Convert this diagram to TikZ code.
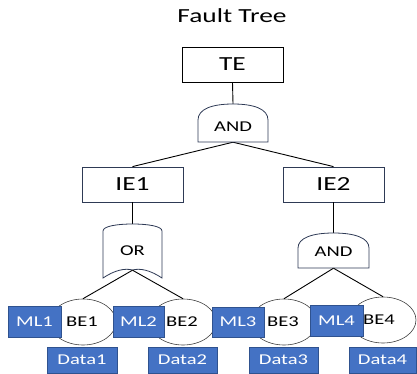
\documentclass[tikz,border=0pt]{standalone}
\usepackage{fontspec}
\setmainfont{Carlito}[FakeStretch=1.37]
\usetikzlibrary{shapes.geometric}
\definecolor{mlblue}{HTML}{4472C4}
\definecolor{mledge}{HTML}{2F528F}
\definecolor{gateedge}{HTML}{2E3A55}
\definecolor{evgray}{HTML}{404040}
\begin{document}
\begin{tikzpicture}[x=1pt,y=-1pt,
  bigfont/.style={font=\fontsize{20}{24}\selectfont},
  midfont/.style={font=\fontsize{15}{18}\selectfont},
  evbox/.style={draw=black, line width=0.8pt, minimum width=101pt, minimum height=35pt, inner sep=0pt, bigfont},
  iebox/.style={evbox, draw=gateedge},
  gatebox/.style={inner sep=0pt},
  gateline/.style={draw=gateedge, line width=0.8pt, fill=white},
  wire/.style={draw=black, line width=0.9pt},
  bluebox/.style={fill=mlblue, draw=mledge, line width=0.8pt, text=white, inner sep=0pt, midfont},
  basic/.style={ellipse, draw=evgray, line width=0.6pt, fill=white, minimum width=66pt, minimum height=46pt, inner sep=0pt, midfont}
]
\useasboundingbox (0,0) rectangle (417,374);

\node[bigfont] (title) at (232,16) {Fault Tree};

% top event and gates
\node[evbox] (te) at (232.5,64.5) {TE};
\node[gatebox, minimum width=70pt, minimum height=38pt] (and1) at (233,123) {};
\node[iebox] (ie1) at (132.5,184.5) {IE1};
\node[iebox] (ie2) at (333.5,184.5) {IE2};
\node[gatebox, minimum width=59pt, minimum height=46pt] (or1) at (132.5,247) {};
\node[gatebox, minimum width=71pt, minimum height=35pt] (and2) at (333.5,250.5) {};

% wires
\draw[wire] (te.south) -- (and1.north);
\draw[wire] (and1.south) -- (ie1.north);
\draw[wire] (and1.south) -- (ie2.north);
\draw[wire] (ie1.south) -- (or1.north);
\draw[wire] (ie2.south) -- (and2.north);

% gate outlines
\draw[gateline] (198,142) -- (198,120) .. controls (198,109) and (212,104) .. (233,104)
  .. controls (254,104) and (268,109) .. (268,120) -- (268,142) -- cycle;
\draw[gateline] (103,278) -- (103,231) .. controls (103,226) and (118,224) .. (132.5,224)
  .. controls (147,224) and (162,226) .. (162,231) -- (162,278)
  .. controls (150,270) and (140,268) .. (132.5,270)
  .. controls (125,268) and (115,270) .. (103,278) -- cycle;
\draw[gateline] (298,268) -- (298,248) .. controls (298,238) and (312,233) .. (333.5,233)
  .. controls (355,233) and (369,238) .. (369,248) -- (369,268) -- cycle;

\node[midfont] (and1t) at (233,127) {AND};
\node[midfont] (or1t) at (132.5,251) {OR};
\node[midfont] (and2t) at (333.5,252) {AND};

% basic events
\node[basic] (be1) at (83,322) {};
\node[basic] (be2) at (183,322) {};
\node[basic] (be3) at (284,322) {};
\node[basic] (be4) at (383,320) {};
\draw[wire] (or1.south) -- (be1.north);
\draw[wire] (or1.south) -- (be2.north);
\draw[wire] (and2.south) -- (be3.north);
\draw[wire] (and2.south) -- (be4.north);
\node[midfont] (be1t) at (82,322) {BE1};
\node[midfont] (be2t) at (182,322) {BE2};
\node[midfont] (be3t) at (283,322) {BE3};
\node[midfont] (be4t) at (379,320) {BE4};

% model labels
\node[bluebox, minimum width=53pt, minimum height=31pt] (ml1) at (34.5,321.5) {ML1};
\node[bluebox, minimum width=51pt, minimum height=31pt] (ml2) at (138.5,321.5) {ML2};
\node[bluebox, minimum width=52pt, minimum height=30pt] (ml3) at (238,322) {ML3};
\node[bluebox, minimum width=53pt, minimum height=31pt] (ml4) at (336.5,320.5) {ML4};

% data
\node[bluebox, minimum width=70pt, minimum height=26pt] (data1) at (82,360) {Data1};
\node[bluebox, minimum width=69pt, minimum height=26pt] (data2) at (182.5,360) {Data2};
\node[bluebox, minimum width=69pt, minimum height=26pt] (data3) at (283.5,360) {Data3};
\node[bluebox, minimum width=67pt, minimum height=26pt] (data4) at (382.5,360) {Data4};
\end{tikzpicture}
\end{document}
